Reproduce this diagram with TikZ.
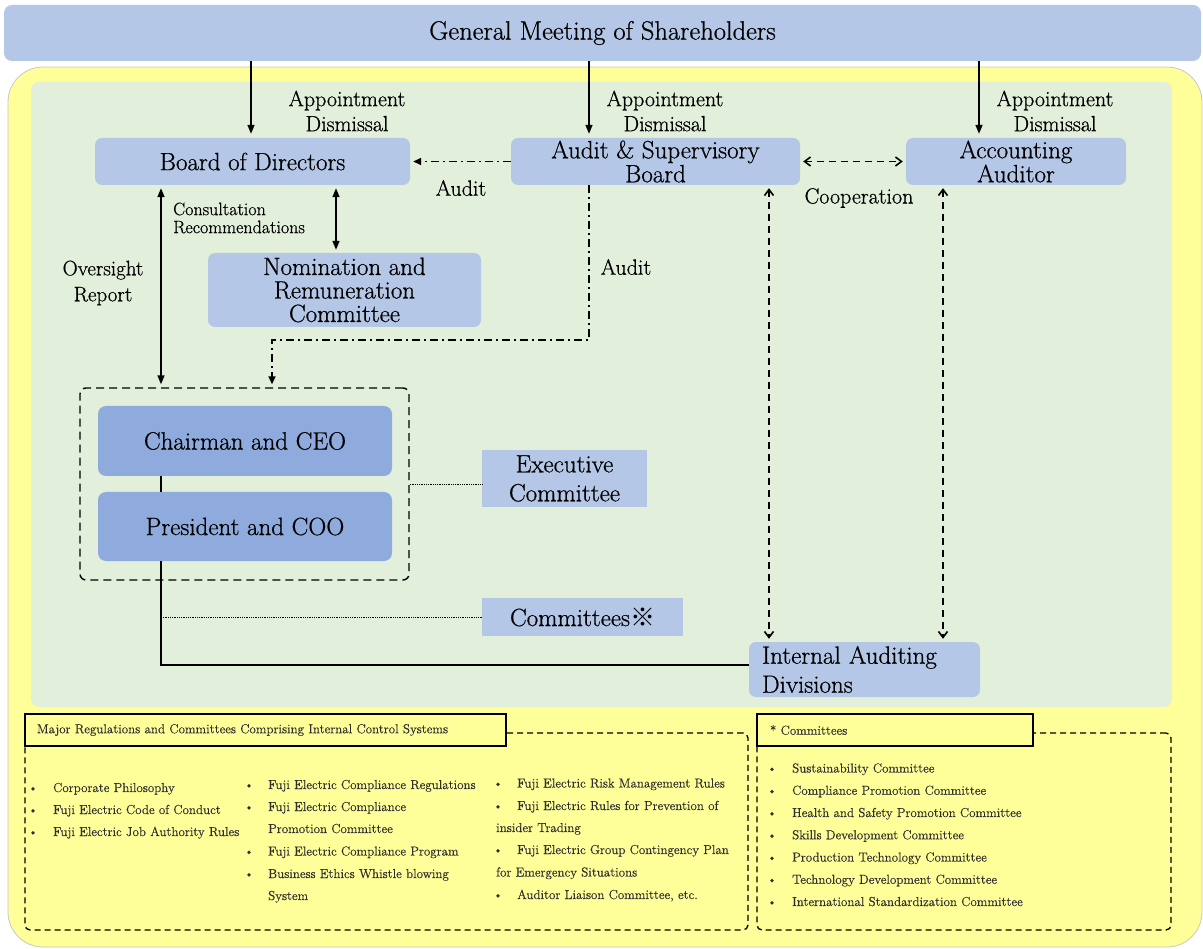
\documentclass[tikz,border=0pt]{standalone}
\usepackage{fontspec}
\newfontfamily\cjkfont{Noto Sans CJK JP}
\newfontfamily\heavyfont{Latin Modern Roman}[FakeBold=0.6]
\newfontfamily\listfont{Latin Modern Roman}[FakeBold=0.3]
\usetikzlibrary{arrows.meta}
\definecolor{boxblue}{HTML}{B4C7E7}
\definecolor{darkblue}{HTML}{8FAADC}
\definecolor{panelgreen}{HTML}{E2EFDA}
\definecolor{paleyellow}{HTML}{FFFF99}
\definecolor{listtext}{HTML}{2E2E2E}
\begin{document}
\begin{tikzpicture}[x=1pt,y=-1pt,
  box/.style={fill=boxblue, rounded corners=7pt, inner sep=0pt, align=center, font=\heavyfont\fontsize{25}{24}\selectfont},
  dbox/.style={box, fill=darkblue, rounded corners=8pt},
  sqbox/.style={fill=boxblue, inner sep=0pt, align=center, font=\heavyfont\fontsize{25}{29}\selectfont},
  lbl/.style={inner sep=0pt, align=center, font=\heavyfont\fontsize{22}{25}\selectfont},
  arr/.style={line width=1.6pt, -{Triangle[length=9pt,width=7pt]}, shorten >=4pt},
  darr/.style={line width=1.6pt, {Triangle[length=9pt,width=7pt]}-{Triangle[length=9pt,width=7pt]}, shorten >=3pt, shorten <=3pt},
  dashdotarr/.style={line width=1.6pt, dash pattern=on 8pt off 4pt on 2pt off 4pt, -{Triangle[length=8pt,width=7pt]}, shorten >=3pt},
  dasharr/.style={line width=1.6pt, dash pattern=on 7pt off 5pt, {Straight Barb[length=6pt,width=9pt]}-{Straight Barb[length=6pt,width=9pt]}, shorten >=3pt, shorten <=3pt},
  link/.style={line width=1.6pt},
  dotlink/.style={line width=0.8pt, densely dotted},
  panel/.style={draw, dash pattern=on 6pt off 4pt, line width=1.3pt, rounded corners=5pt, inner sep=0pt},
  titlebox/.style={draw, line width=1.3pt, fill=paleyellow, inner ysep=0pt, align=left, font=\listfont\fontsize{13}{15}\selectfont, text=listtext, minimum height=32pt},
  li/.style={anchor=base west, inner sep=0pt, font=\listfont\fontsize{13}{15}\selectfont, text=listtext},
  bu/.style={anchor=base, inner sep=0pt, font=\listfont\fontsize{13}{15}\selectfont, text=listtext}
]
\useasboundingbox (0,0) rectangle (1203,949);

% backgrounds
\draw[fill=paleyellow, draw=black!22, line width=0.8pt, rounded corners=35pt] (8,67) rectangle (1202,947);
\fill[panelgreen, rounded corners=8pt] (31,82) rectangle (1172,707);

% top bar
\node[fill=boxblue, rounded corners=8pt, minimum width=1197pt, minimum height=56pt, inner sep=0pt, font=\heavyfont\fontsize{26.5}{28}\selectfont] (gm) at (602.5,33) {General Meeting of Shareholders};

% main boxes
\node[box, minimum width=315pt, minimum height=47pt] (bod) at (252.5,161.5) {Board of Directors};
\node[box, minimum width=289pt, minimum height=47pt] (asb) at (655.5,161.5) {Audit \& Supervisory\\Board};
\node[box, minimum width=220pt, minimum height=47pt] (aa) at (1016,161.5) {Accounting\\Auditor};
\node[box, minimum width=273pt, minimum height=74pt, font=\heavyfont\fontsize{25}{23.5}\selectfont] (nrc) at (344.5,290) {Nomination and\\Remuneration\\Committee};
\node[draw, dash pattern=on 8pt off 5pt, line width=1.4pt, rounded corners=6pt, minimum width=329pt, minimum height=192pt, inner sep=0pt] (grp) at (244.5,484) {};
\node[dbox, minimum width=294pt, minimum height=70pt] (ceo) at (245,441) {Chairman and CEO};
\node[dbox, minimum width=294pt, minimum height=69pt] (coo) at (245,526.5) {President and COO};
\node[sqbox, minimum width=165pt, minimum height=57pt] (exec) at (564.5,478.5) {Executive\\Committee};
\node[sqbox, minimum width=201pt, minimum height=38pt] (comm) at (582.5,617) {Committees{\cjkfont ※}};
\node[box, minimum width=231pt, minimum height=55pt, align=left, text width=205pt, font=\heavyfont\fontsize{25}{29}\selectfont] (ia) at (864.5,669.5) {Internal Auditing\\Divisions};

% labels
\node[lbl] (l1) at (347,111) {Appointment\\Dismissal};
\node[lbl] (l2) at (665,111) {Appointment\\Dismissal};
\node[lbl] (l3) at (1055,111) {Appointment\\Dismissal};
\node[lbl] (l4) at (461,188) {Audit};
\node[lbl] (l5) at (859,198) {Cooperation};
\node[lbl] (l6) at (626,267) {Audit};
\node[lbl, font=\heavyfont\fontsize{21}{26}\selectfont] (l7) at (103,283) {Oversight\\Report};
\node[lbl, anchor=west, align=left, font=\heavyfont\fontsize{18}{18}\selectfont] (l8) at (173,218) {Consultation\\Recommendations};

% helper coordinates
\coordinate (x251) at (251,0);
\coordinate (x589) at (589,0);
\coordinate (x979) at (979,0);
\coordinate (x161) at (161,0);
\coordinate (x336) at (336,0);
\coordinate (x769) at (769,0);
\coordinate (x943) at (943,0);
\coordinate (t1) at (589,340);
\coordinate (t2) at (272,340);
\coordinate (y665) at (0,665);

% connectors
\draw[arr] (gm.south -| x251) -- (bod.north -| x251);
\draw[arr] (gm.south -| x589) -- (asb.north -| x589);
\draw[arr] (gm.south -| x979) -- (aa.north -| x979);
\draw[dashdotarr] (asb.west) -- (bod.east);
\draw[dasharr] (asb.east) -- (aa.west);
\draw[darr] (bod.south -| x161) -- (grp.north -| x161);
\draw[darr] (bod.south -| x336) -- (nrc.north -| x336);
\draw[dashdotarr] (asb.south -| t1) -- (t1) -- (t2) -- (grp.north -| t2);
\draw[link] (ceo.south -| x161) -- (coo.north -| x161);
\draw[link] (coo.south -| x161) -- (x161 |- y665) -- (ia.west |- y665);
\draw[dotlink] (grp.east) -- (grp.east -| exec.west);
\draw[dotlink] (x161 |- comm.west) -- (comm.west);
\draw[dasharr] (asb.south -| x769) -- (ia.north -| x769);
\draw[dasharr] (aa.south -| x943) -- (ia.north -| x943);

% bottom panels
\node[panel, minimum width=723pt, minimum height=197pt] (p1) at (386.5,831.5) {};
\node[panel, minimum width=414pt, minimum height=197pt] (p2) at (964,831.5) {};
\node[titlebox, text width=457pt, inner xsep=12pt] (h1) at (265.5,730) {Major Regulations and Committees Comprising Internal Control Systems};
\node[titlebox, text width=250pt, inner xsep=13pt] (h2) at (895,730) {* Committees};

% column 1
\node[bu] (b11) at (33,792) {\textbullet};
\node[li] (c11) at (53,792) {Corporate Philosophy};
\node[bu] (b12) at (33,814) {\textbullet};
\node[li] (c12) at (53,814) {Fuji Electric Code of Conduct};
\node[bu] (b13) at (33,836) {\textbullet};
\node[li] (c13) at (53,836) {Fuji Electric Job Authority Rules};

% column 2
\node[bu] (b21) at (249,789) {\textbullet};
\node[li] (c21) at (268,789) {Fuji Electric Compliance Regulations};
\node[bu] (b22) at (249,811) {\textbullet};
\node[li] (c22) at (268,811) {Fuji Electric Compliance};
\node[li] (c23) at (268,833) {Promotion Committee};
\node[bu] (b24) at (249,855.5) {\textbullet};
\node[li] (c24) at (268,855.5) {Fuji Electric Compliance Program};
\node[bu] (b25) at (249,878) {\textbullet};
\node[li] (c25) at (268,878) {Business Ethics Whistle blowing};
\node[li] (c26) at (268,900) {System};

% column 3
\node[bu] (b31) at (498,787.5) {\textbullet};
\node[li] (c31) at (517,787.5) {Fuji Electric Risk Management Rules};
\node[bu] (b32) at (498,810) {\textbullet};
\node[li] (c32) at (517,810) {Fuji Electric Rules for Prevention of};
\node[li] (c33) at (496,832) {insider Trading};
\node[bu] (b34) at (498,854) {\textbullet};
\node[li] (c34) at (517,854) {Fuji Electric Group Contingency Plan};
\node[li] (c35) at (496,876.5) {for Emergency Situations};
\node[bu] (b36) at (498,899) {\textbullet};
\node[li] (c36) at (517,899) {Auditor Liaison Committee, etc.};

% right list
\foreach \t [count=\i] in {Sustainability Committee, Compliance Promotion Committee, Health and Safety Promotion Committee, Skills Development Committee, Production Technology Committee, Technology Development Committee, International Standardization Committee}{
  \node[bu] (rb\i) at (772,{772.5+22.25*(\i-1)}) {\textbullet};
  \node[li] (rt\i) at (792,{772.5+22.25*(\i-1)}) {\t};
}
\end{tikzpicture}
\end{document}
